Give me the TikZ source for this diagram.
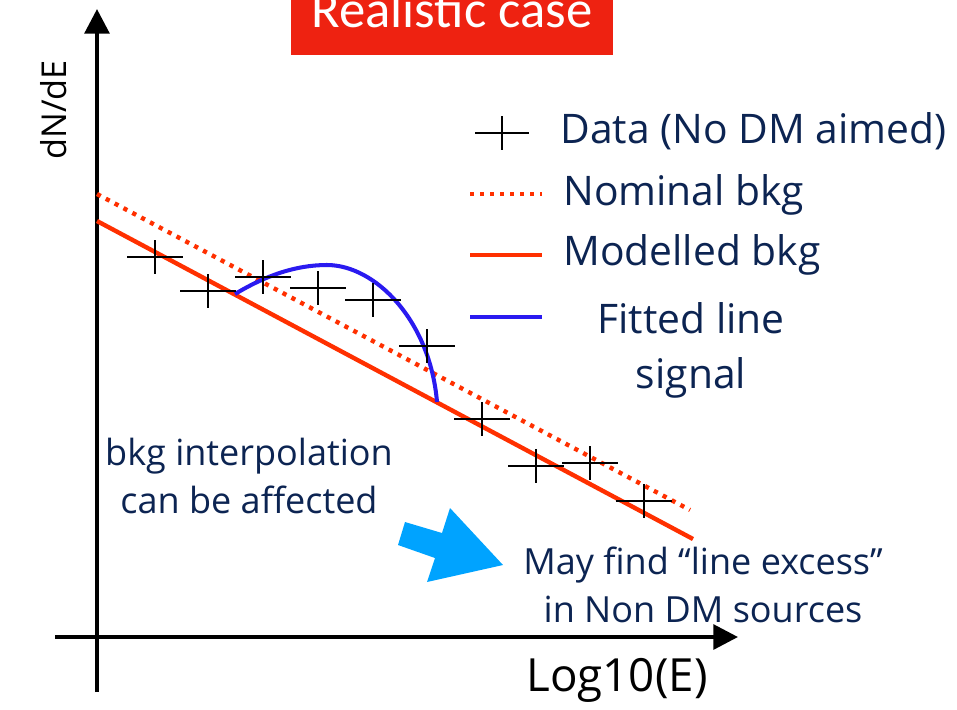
\documentclass[tikz,border=0pt]{standalone}
\usepackage{fontspec}
\setmainfont{Open Sans}
\newfontfamily\titlefont{Carlito}
\usetikzlibrary{arrows.meta,positioning}
\definecolor{bkgred}{HTML}{FF3000}
\definecolor{fitblue}{HTML}{2A1AF0}
\definecolor{navy}{HTML}{0C2452}
\definecolor{titlered}{HTML}{EE2211}
\definecolor{arrowcyan}{HTML}{00A3FF}
\tikzset{axisline/.style={line width=2.3pt,-{Triangle[length=14pt,width=14pt]}},
  modbkg/.style={bkgred,line width=2.5pt},
  nombkg/.style={bkgred,line width=2.5pt,dash pattern=on 2.4pt off 3.3pt},
  fitline/.style={fitblue,line width=2.3pt},
  datum/.style={black,line width=1.1pt},
  legtext/.style={navy,font=\fontsize{23.2}{31}\selectfont,inner sep=0pt},
  note/.style={navy,font=\fontsize{20.5}{27}\selectfont,align=center,inner sep=0pt},
  axlabel/.style={black,font=\fontsize{26}{30}\selectfont,inner sep=0pt}}

\begin{document}
\begin{tikzpicture}[x=0.2mm,y=-0.2mm]
\useasboundingbox (0,0) rectangle (957,709);
\clip (0,0) rectangle (957,709);
% title
\fill[titlered] (291,-10) rectangle (613,55);
\node[anchor=base,white,inner sep=0pt,font=\titlefont\fontsize{30}{34}\selectfont] (title) at (452,27) {Realistic case};
% axes
\coordinate (ybot) at (97,692); \coordinate (ytop) at (97,9);
\coordinate (xleft) at (55,637); \coordinate (xright) at (738,637);
\draw[axisline] (ybot) -- (ytop);
\draw[axisline] (xleft) -- (xright);
\node[axlabel,rotate=90,font=\fontsize{19.5}{24}\selectfont] (ylab) at (54,110) {dN/dE};
\node[axlabel] (xlab) at (617,680) {Log10(E)};
% background lines and fit
\coordinate (nom0) at (97,194); \coordinate (nom1) at (690,510);
\coordinate (mod0) at (97,221); \coordinate (mod1) at (693,539);
\draw[nombkg] (nom0) -- (nom1);
\draw[modbkg] (mod0) -- (mod1);
\coordinate (fit0) at (235,294); \coordinate (fit1) at (437,402);
\draw[fitline] (fit0) .. controls (265,276) and (295,265) .. (327,265)
  .. controls (375,265) and (430,320) .. (fit1);
% data points
\foreach \x/\y in {155/257,208/291,263/277,318/288,373/300,427/346,482/419,536/466,590/463,644/501}
  \draw[datum] (\x-28,\y) -- (\x+28,\y) (\x,\y-17) -- (\x,\y+17);
% legend
\draw[datum] (475,133) -- (529,133) (502,116) -- (502,150);
\node[legtext,anchor=base west] (legdata) at (560,143) {Data (No DM aimed)};
\draw[nombkg] (470,194) -- (542,194);
\node[legtext,anchor=base west] (legnom) at (563,205) {Nominal bkg};
\draw[modbkg] (470,255) -- (542,255);
\node[legtext,anchor=base west] (legmod) at (563,265) {Modelled bkg};
\draw[fitline] (470,317) -- (542,317);
\node[legtext,anchor=base,align=center] (legfit) at (691,388) {Fitted line\\signal};
% notes
\node[note,anchor=base] (interp) at (249,513) {bkg interpolation\\can be affected};
\fill[arrowcyan] (398,545) -- (405,522) -- (442,533) -- (450,508) -- (503,565)
  -- (427,582) -- (435,558) -- cycle;
\node[note,anchor=base] (excess) at (703,622) {May find “line excess”\\in Non DM sources};
\end{tikzpicture}
\end{document}
